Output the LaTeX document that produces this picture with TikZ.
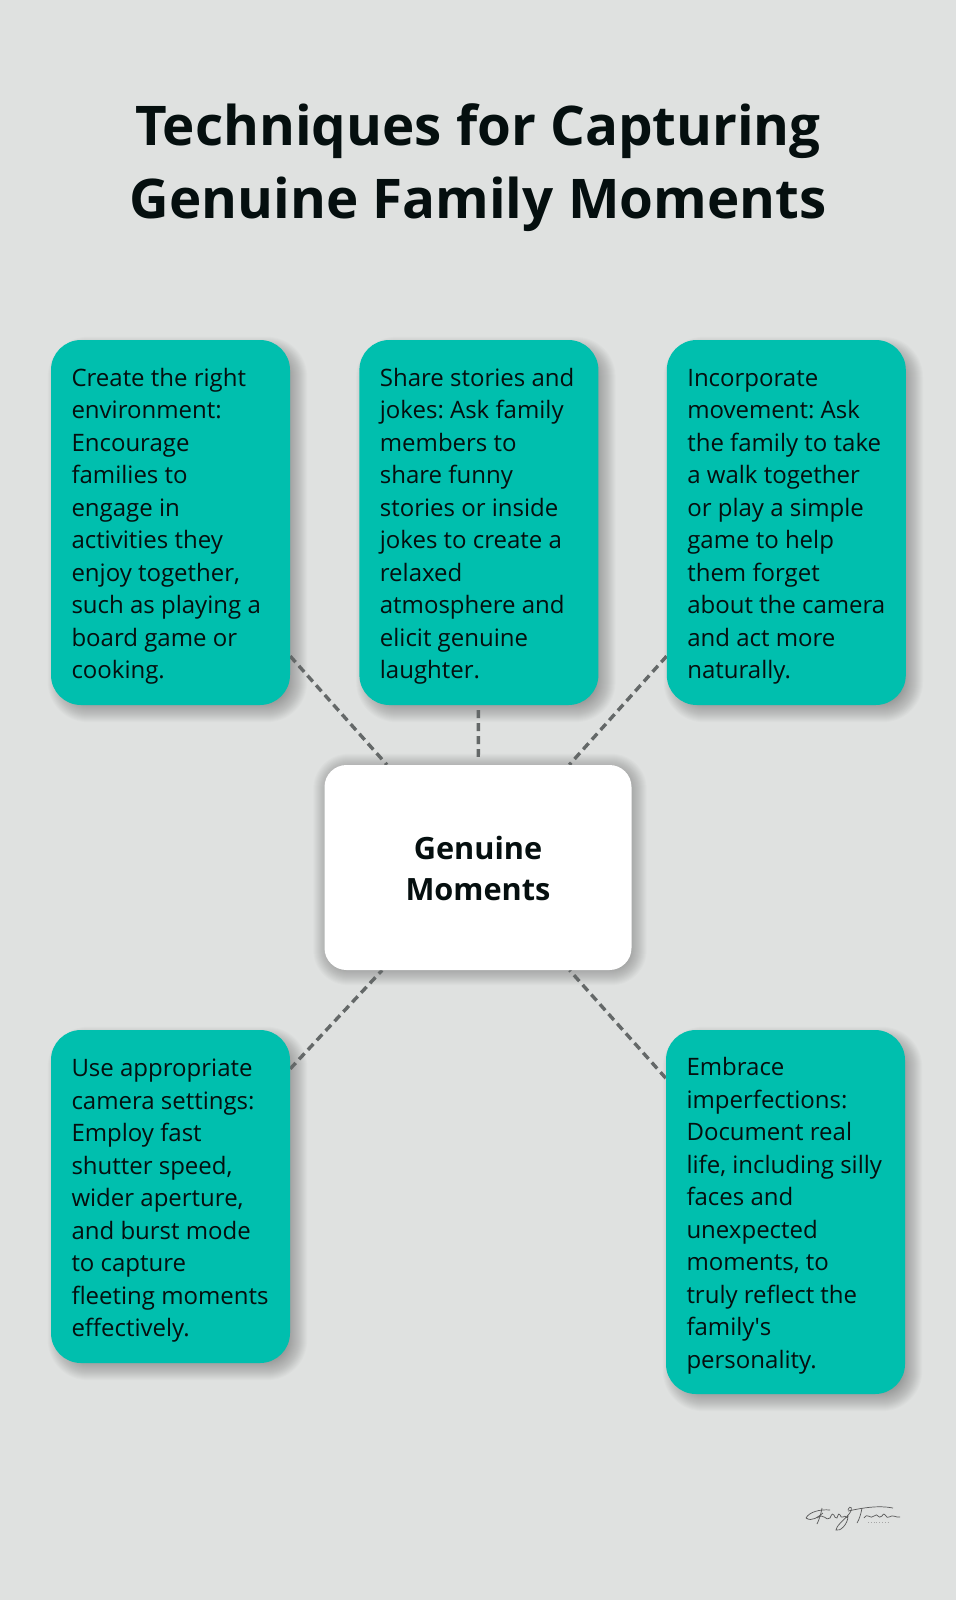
\documentclass[tikz,border=0pt]{standalone}
\usepackage{fontspec}
\setmainfont{Open Sans}
\usepackage{tikz}
\usetikzlibrary{positioning,backgrounds}

\definecolor{pagegrey}{RGB}{223,225,224}
\definecolor{cardteal}{RGB}{0,191,174}
\definecolor{inkdark}{RGB}{5,15,15}
\definecolor{linkgrey}{RGB}{100,104,104}

\tikzset{
  cardbox/.style={fill=cardteal,rounded corners=30pt,text=inkdark,
    minimum width=239pt,text width=198pt,inner sep=0pt,align=flush left,
    execute at begin node={\rule{0pt}{26pt}},
    font=\fontsize{24}{32.5}\selectfont\frenchspacing},
  hubbox/.style={fill=white,rounded corners=22pt,text=inkdark,
    minimum width=307pt,minimum height=205pt,text width=240pt,inner sep=0pt,align=center,
    execute at begin node={\rule{0pt}{25pt}},
    font=\fontsize{30.7}{41}\selectfont\bfseries},
  titletext/.style={text=inkdark,align=center,inner sep=0pt,
    font=\fontsize{54.7}{73}\selectfont\bfseries},
  linkline/.style={linkgrey,line width=3.4pt,dash pattern=on 8pt off 5pt},
  signline/.style={black!65,line width=.7pt}
}

% soft edge made of stacked fills
\newcommand{\softshadow}[4]{
  \foreach \k [evaluate=\k as \g using \k-(#4+1)/2] in {1,...,#4}
    \fill[black,opacity=.015,rounded corners={#3+\g*1pt}] ([shift={(#2-\g,#2-\g)}]#1.north west) rectangle ([shift={(#2+\g,#2+\g)}]#1.south east);
}

\begin{document}
\begin{tikzpicture}[x=1pt,y=-1pt]
  \useasboundingbox (0,0) rectangle (956,1600);

  \node[titletext] (title) at (478,168) {Techniques for Capturing\\Genuine Family Moments};

  \node[hubbox] (hub) at (478,867.5) {Genuine\\Moments};

  % top row
  \node[cardbox,minimum height=365pt] (environment) at (170.5,522.5)
    {Create the right\\environment:\\Encourage\\families to\\engage in\\activities they\\enjoy together,\\such as playing a\\board game or\\cooking.};
  \node[cardbox,minimum height=365pt,right=69pt of environment] (stories)
    {Share stories and\\jokes: Ask family\\members to\\share funny\\stories or inside\\jokes to create a\\relaxed\\atmosphere and\\elicit genuine\\laughter.};
  \node[cardbox,minimum height=365pt,right=68pt of stories] (movement)
    {Incorporate\\movement: Ask\\the family to take\\a walk together\\or play a simple\\game to help\\them forget\\about the camera\\and act more\\naturally.};

  % bottom row
  \node[cardbox,minimum height=333pt] (settings) at (170.5,1196.5)
    {Use appropriate\\camera settings:\\Employ fast\\shutter speed,\\wider aperture,\\and burst mode\\to capture\\fleeting moments\\effectively.};
  \node[cardbox,minimum height=364pt] (flaws) at (785.5,1212)
    {Embrace\\imperfections:\\Document real\\life, including silly\\faces and\\unexpected\\moments, to\\truly reflect the\\family\textquotesingle s\\personality.};

  \begin{scope}[on background layer]
    \fill[pagegrey] (0,0) rectangle (956,1600);
    \softshadow{environment}{7}{30pt}{21}
    \softshadow{stories}{7}{30pt}{21}
    \softshadow{movement}{7}{30pt}{21}
    \softshadow{settings}{7}{30pt}{21}
    \softshadow{flaws}{7}{30pt}{21}
    \softshadow{hub}{2}{22pt}{27}
    \draw[linkline] (environment) -- (hub);
    \draw[linkline,shorten <=5pt,shorten >=8pt] (stories) -- (hub);
    \draw[linkline] (movement) -- (hub);
    \draw[linkline] (settings) -- (hub);
    \draw[linkline] (flaws) -- (hub);
  \end{scope}

  % signature scribble
  \draw[signline] (806,1518) .. controls (809,1512) and (820,1509) .. (830,1510);
  \draw[signline] (806,1518) .. controls (812,1522) and (818,1517) .. (823,1513);
  \draw[signline] (822,1508) .. controls (821,1514) and (819,1520) .. (817,1524);
  \draw[signline] (817,1518) .. controls (824,1512) and (826,1522) .. (830,1518) .. controls (834,1508) and (834,1520) .. (837,1518)
    .. controls (840,1508) and (840,1520) .. (843,1517) .. controls (846,1514) and (846,1520) .. (848,1516)
    .. controls (848,1524) and (840,1532) .. (836,1530) .. controls (836,1526) and (844,1520) .. (849,1514)
    .. controls (854,1508) and (850,1504) .. (848,1510);
  \draw[signline] (848,1511) .. controls (862,1508) and (878,1505) .. (893,1508);
  \draw[signline] (862,1508) .. controls (861,1514) and (859,1520) .. (857,1523);
  \draw[signline] (864,1518) .. controls (868,1512) and (870,1520) .. (874,1516) .. controls (878,1512) and (878,1520) .. (882,1516)
    .. controls (885,1510) and (886,1520) .. (889,1517) .. controls (893,1514) and (896,1518) .. (900,1517);
  \draw[signline,black!35,line width=.8pt,dotted] (868,1522) -- (890,1522);
\end{tikzpicture}
\end{document}
